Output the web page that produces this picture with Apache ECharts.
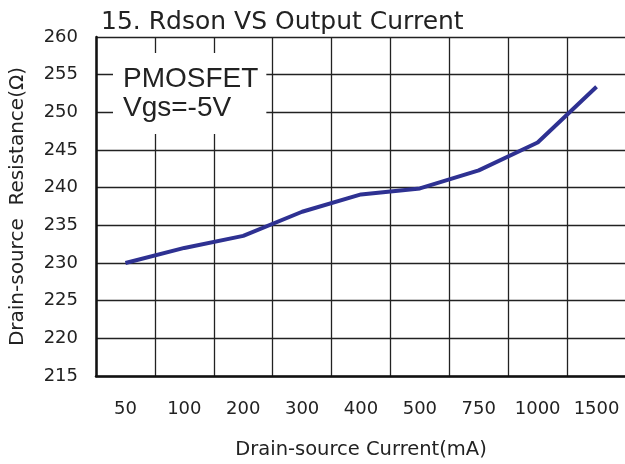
<!DOCTYPE html>
<html>
<head>
<meta charset="utf-8">
<script src="https://cdn.jsdelivr.net/npm/echarts@6/dist/echarts.min.js"></script>
<style>html,body{margin:0;padding:0;background:#fff;}#c{width:625px;height:464px;}</style>
</head>
<body>
<div id="c"></div>
<script>
const categories = ['50','100','200','300','400','500','750','1000','1500'];
const rdson = [230.0, 232.0, 233.6, 236.8, 239.1, 239.9, 242.3, 246.0, 253.4];
const yMin = 215, yMax = 260, yStep = 5;
const titleText = '15. Rdson VS Output Current';
const noteText = 'PMOSFET\nVgs=-5V';
const xName = 'Drain-source Current(mA)';
const yName = 'Drain-source  Resistance(\u03A9)';

const font = '"DejaVu Sans", Arial, sans-serif';
const font2 = 'Arial, "Liberation Sans", Helvetica, sans-serif';
const chart = echarts.init(document.getElementById('c'), null, {renderer: 'canvas'});
chart.setOption({
  animation: false,
  backgroundColor: '#fff',
  title: [{
    text: titleText, left: 96, top: 5,
    textStyle: {fontFamily: font, fontSize: 25, fontWeight: 'normal', color: '#222'}
  }, {
    text: noteText, left: 113, top: 53,
    backgroundColor: '#fff',
    padding: [12, 8, 11, 10],
    textStyle: {fontFamily: font2, fontSize: 28, fontWeight: 'normal', color: '#222', lineHeight: 29}
  }],
  grid: {left: 96, right: -1, top: 37, bottom: 88, containLabel: false, outerBoundsMode: 'none'},
  xAxis: {
    type: 'category', data: categories, boundaryGap: true,
    name: xName, nameLocation: 'middle', nameGap: 64,
    nameTextStyle: {fontFamily: font, fontSize: 19.5, color: '#222'},
    axisLine: {lineStyle: {color: '#111', width: 2.5}},
    axisTick: {show: false},
    axisLabel: {interval: 0, fontFamily: font, fontSize: 18, color: '#222', margin: 24},
    splitLine: {show: true, interval: 0, lineStyle: {color: '#222', width: 1.3}}
  },
  yAxis: {
    type: 'value', min: yMin, max: yMax, interval: yStep,
    name: yName, nameLocation: 'middle', nameGap: 68,
    nameTextStyle: {fontFamily: font, fontSize: 20, color: '#222'},
    axisLine: {show: true, lineStyle: {color: '#111', width: 2.5}},
    axisTick: {show: false},
    axisLabel: {fontFamily: font, fontSize: 18, color: '#222', margin: 18},
    splitLine: {show: true, lineStyle: {color: '#222', width: 1.3}}
  },
  series: [{
    type: 'line', data: rdson, symbol: 'none', z: 1,
    lineStyle: {color: '#2e3192', width: 4}
  }]
});
</script>
</body>
</html>
